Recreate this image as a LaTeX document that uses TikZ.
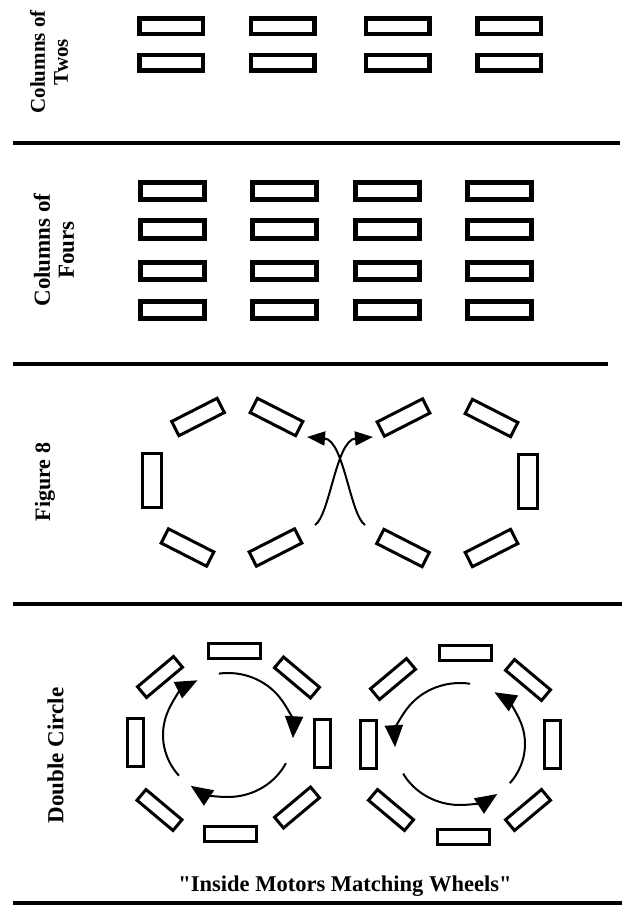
\documentclass[tikz,border=0pt]{standalone}
\usepackage{fontspec}
\setmainfont{Liberation Serif}
\usetikzlibrary{arrows.meta}
\begin{document}
\begin{tikzpicture}[x=1pt,y=1pt,
  barA/.style={draw, line width=4.5pt, minimum width=63.5pt, minimum height=15.5pt, inner sep=0pt, outer sep=0pt},
  barB/.style={draw, line width=5pt, minimum width=64pt, minimum height=17pt, inner sep=0pt, outer sep=0pt},
  eightbar/.style={draw, line width=3pt, minimum width=51pt, minimum height=16pt, inner sep=0pt, outer sep=0pt},
  eightvert/.style={draw, line width=3pt, minimum width=19pt, minimum height=54pt, inner sep=0pt, outer sep=0pt},
  circbar/.style={draw, line width=3pt, minimum width=52pt, minimum height=15pt, inner sep=0pt, outer sep=0pt},
  circvert/.style={draw, line width=3pt, minimum width=16pt, minimum height=48pt, inner sep=0pt, outer sep=0pt},
  circdiag/.style={draw, line width=3pt, minimum width=47pt, minimum height=14pt, inner sep=0pt, outer sep=0pt},
  sectionline/.style={line width=3.5pt},
  lab/.style={rotate=90, align=center, inner sep=0pt, font=\bfseries},
  flow/.style={line width=2pt, -{Triangle[length=22pt,width=18pt]}},
  cross/.style={line width=2pt, -{Triangle[length=18pt,width=14pt]}}
]
\useasboundingbox (0,0) rectangle (622,-909);

% ---------- Columns of Twos ----------
\node[lab, font=\bfseries\fontsize{21}{23}\selectfont] (l1) at (49,-62) {Columns of\\Twos};
\foreach \cx [count=\i] in {171,282.5,397.5,509}{
  \node[barA] (t\i a) at (\cx,-26.5) {};
  \node[barA] (t\i b) at (\cx,-63) {};
}
\coordinate (s1a) at (13,-143); \coordinate (s1b) at (620,-143);
\draw[sectionline] (s1a) -- (s1b);

% ---------- Columns of Fours ----------
\node[lab, font=\bfseries\fontsize{23}{24}\selectfont] (l2) at (54,-250) {Columns of\\Fours};
\foreach \cx [count=\i] in {172.5,284.5,387.5,499}{
  \foreach \cy [count=\j] in {191,229.5,271,309.5}{
    \node[barB] (f\i\j) at (\cx,-\cy) {};
  }
}
\coordinate (s2a) at (13,-364); \coordinate (s2b) at (608,-364);
\draw[sectionline] (s2a) -- (s2b);

% ---------- Figure 8 ----------
\node[lab, font=\bfseries\fontsize{22}{24}\selectfont] (l3) at (45,-482) {Figure 8};
\node[eightbar, rotate=27]  (e1) at (198,-417) {};
\node[eightbar, rotate=-27] (e2) at (276.5,-417) {};
\node[eightvert]            (e3) at (152,-480.5) {};
\node[eightbar, rotate=-27] (e4) at (187.5,-547.5) {};
\node[eightbar, rotate=27]  (e5) at (275.5,-547.5) {};
\node[eightbar, rotate=27]  (e6) at (403.5,-417.5) {};
\node[eightbar, rotate=-27] (e7) at (491.5,-418) {};
\node[eightvert]            (e8) at (527.5,-481.5) {};
\node[eightbar, rotate=-27] (e9) at (403,-548) {};
\node[eightbar, rotate=27]  (e10) at (491.5,-548) {};
\coordinate (xa0) at (315,-525); \coordinate (xa1) at (373,-437);
\coordinate (xb0) at (365,-525); \coordinate (xb1) at (307,-437);
\draw[cross] (xa0) .. controls (330,-515) and (336,-440) .. (xa1);
\draw[cross] (xb0) .. controls (350,-515) and (344,-440) .. (xb1);
\coordinate (s3a) at (13,-604); \coordinate (s3b) at (622,-604);
\draw[sectionline] (s3a) -- (s3b);

% ---------- Double Circle ----------
\node[lab, font=\bfseries\fontsize{23}{24}\selectfont] (l4) at (55.5,-755.5) {Double Circle};
% left circle
\node[circbar]                (a1) at (234.5,-651) {};
\node[circdiag, rotate=40]    (a2) at (160,-677) {};
\node[circdiag, rotate=-40]   (a3) at (297,-677.5) {};
\node[circvert]               (a4) at (135.5,-742) {};
\node[circvert]               (a5) at (322,-743) {};
\node[circdiag, rotate=-40]   (a6) at (159.5,-810) {};
\node[circdiag, rotate=40]    (a7) at (297,-807.5) {};
\node[circbar]                (a8) at (230.5,-834) {};
% right circle
\node[circbar]                (b1) at (465.5,-653) {};
\node[circdiag, rotate=40]    (b2) at (393,-679) {};
\node[circdiag, rotate=-40]   (b3) at (528,-680) {};
\node[circvert]               (b4) at (368,-744) {};
\node[circvert]               (b5) at (552.5,-744) {};
\node[circdiag, rotate=-40]   (b6) at (391,-810) {};
\node[circdiag, rotate=40]    (b7) at (528,-810) {};
\node[circbar]                (b8) at (463,-836.5) {};
% flow arrows
\coordinate (c1) at (228,-735);
\coordinate (c2) at (460,-744);
\draw[flow] ([shift={(98:65 and 62)}]c1) arc[start angle=98, end angle=-3, x radius=65, y radius=62];
\draw[flow] ([shift={(-27:65 and 62)}]c1) arc[start angle=-27, end angle=-125, x radius=65, y radius=62];
\draw[flow] ([shift={(221:65 and 62)}]c1) arc[start angle=221, end angle=118, x radius=65, y radius=62];
\draw[flow] ([shift={(81:65 and 61)}]c2) arc[start angle=81, end angle=183, x radius=65, y radius=61];
\draw[flow] ([shift={(209:65 and 61)}]c2) arc[start angle=209, end angle=305, x radius=65, y radius=61];
\draw[flow] ([shift={(-40:65 and 61)}]c2) arc[start angle=-40, end angle=58, x radius=65, y radius=61];

\node[anchor=base, inner sep=0pt, font=\bfseries\fontsize{22.5}{24}\selectfont] (cap) at (345,-891) {\textquotedbl Inside Motors Matching Wheels\textquotedbl};
\coordinate (s4a) at (13,-903); \coordinate (s4b) at (622,-903);
\draw[sectionline] (s4a) -- (s4b);
\end{tikzpicture}
\end{document}
